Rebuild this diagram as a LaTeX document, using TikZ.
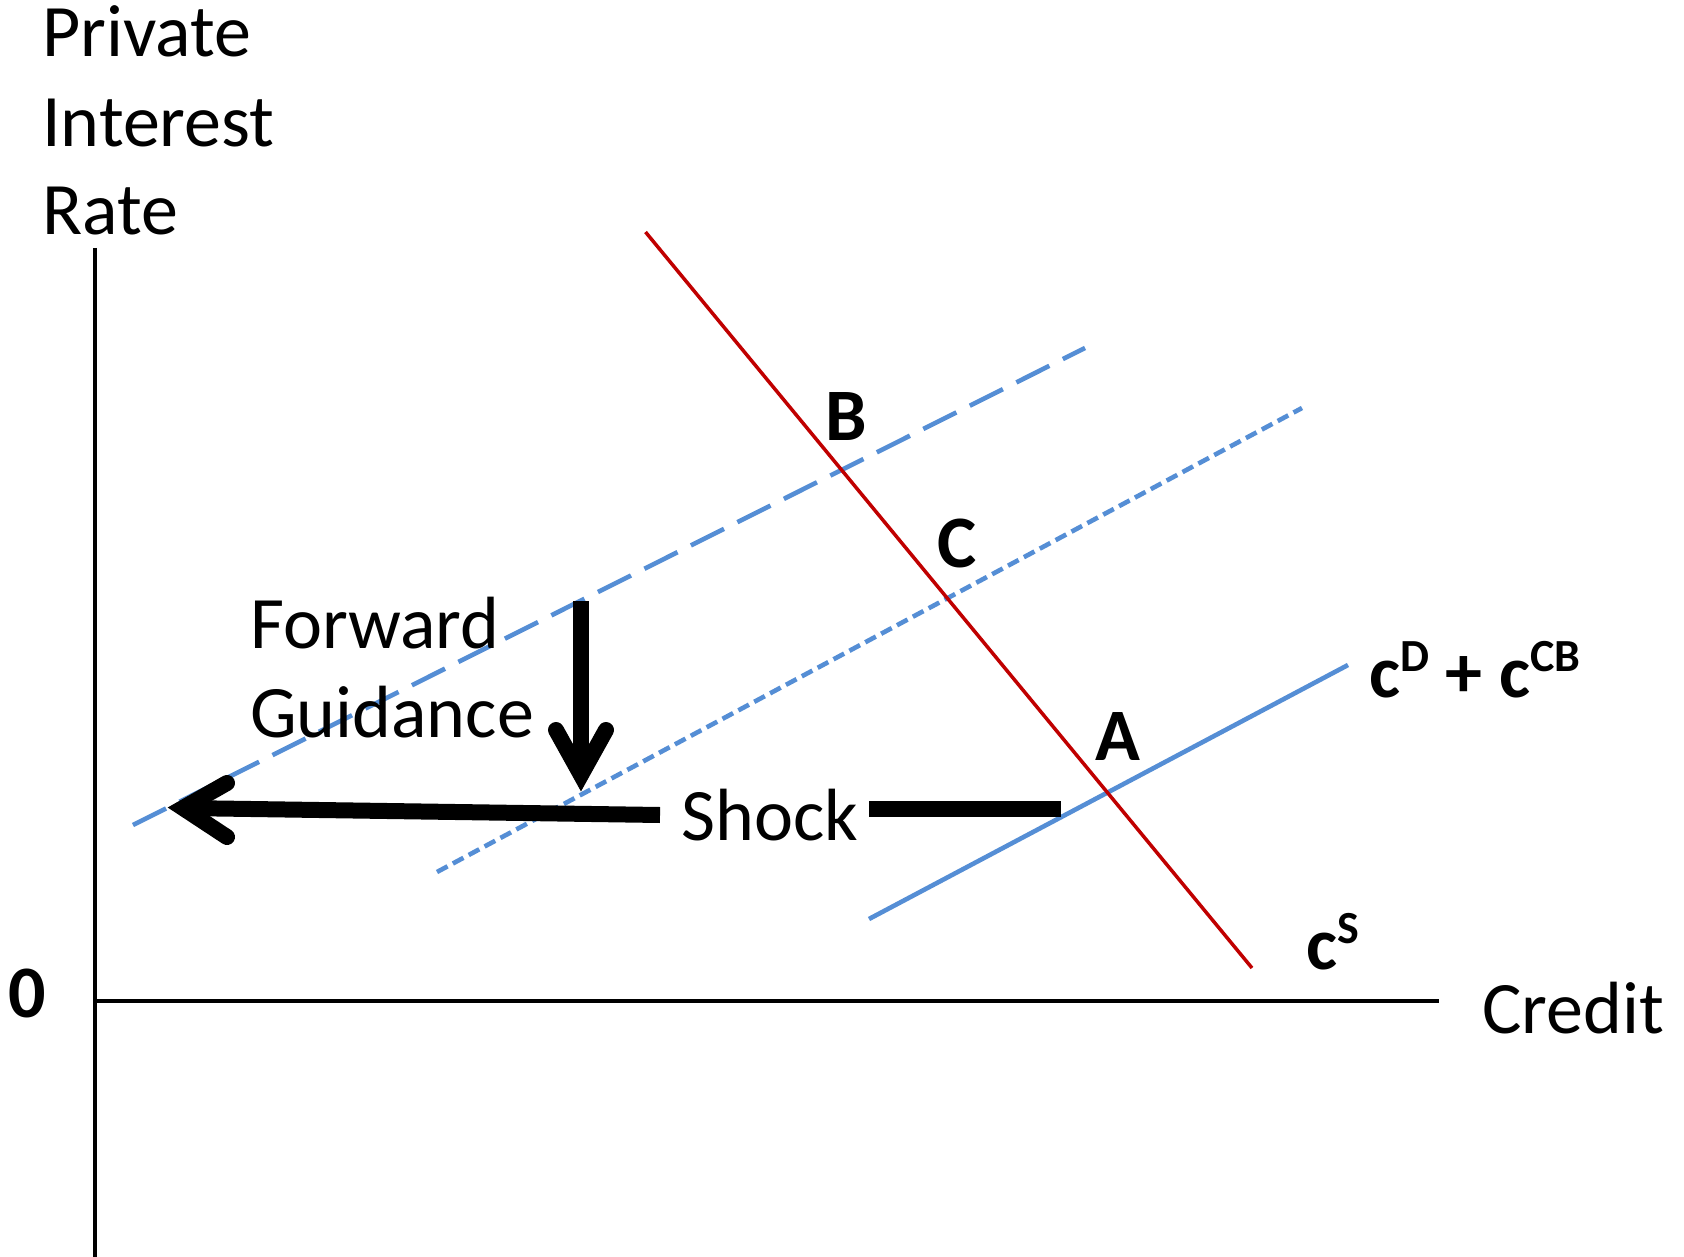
\documentclass[tikz,border=0pt]{standalone}
\usepackage{fontspec}
\setmainfont{Carlito}
\definecolor{cblue}{HTML}{558ED5}
\definecolor{cred}{HTML}{C00000}
\newcommand\supr[1]{\raisebox{26pt}{\fontsize{46}{46}\selectfont #1}}
\begin{document}
\begin{tikzpicture}[x=1pt,y=-1pt,
  lbl/.style={inner sep=0pt, anchor=base west, font=\fontsize{74}{74}\selectfont},
  blbl/.style={inner sep=0pt, anchor=base, font=\fontsize{74}{74}\selectfont\bfseries},
  bwlbl/.style={inner sep=0pt, anchor=base west, font=\fontsize{74}{74}\selectfont\bfseries},
  axisline/.style={line width=3.2pt, black},
  demand/.style={line width=3.5pt, cred},
  supply/.style={line width=4.6pt, cblue},
  longdash/.style={supply, dash pattern=on 37pt off 15pt},
  shortdash/.style={supply, dash pattern=on 12pt off 6pt},
  shaft/.style={line width=16pt, black},
  barb/.style={line width=16pt, black, line cap=round, line join=miter}]
\useasboundingbox (0,0) rectangle (1684,1257);

% axes
\coordinate (ytop) at (95,248);
\coordinate (ybot) at (95,1257);
\coordinate (origin) at (95,1001);
\coordinate (xend) at (1439,1001);
\draw[axisline] (ytop) -- (ybot);
\draw[axisline] (origin) -- (xend);

% curves
\coordinate (ld1) at (133,825);  \coordinate (ld2) at (1085,348);
\coordinate (sd1) at (437,872);  \coordinate (sd2) at (1302,408);
\coordinate (sb1) at (869,919);  \coordinate (sb2) at (1348,665);
\coordinate (rd1) at (645.5,232); \coordinate (rd2) at (1252,968);
\draw[longdash] (ld1) -- (ld2);
\draw[shortdash] (sd1) -- (sd2);
\draw[supply] (sb1) -- (sb2);
\draw[demand] (rd1) -- (rd2);

% texts
\node[lbl] (private) at (42,57) {Private};
\node[lbl] (interest) at (42,147) {Interest};
\node[lbl] (rate) at (42,235) {Rate};
\node[lbl] (credit) at (1482,1033) {Credit};
\node[blbl] (zero) at (27,1017) {0};
\node[lbl] (forward) at (250,648) {Forward};
\node[lbl] (guidance) at (250,737) {Guidance};
\node[lbl] (shock) at (681,840) {Shock};
\node[blbl] (B) at (846,440) {B};
\node[blbl] (C) at (957,567) {C};
\node[blbl] (A) at (1118,760) {A};
\node[bwlbl] (cdcb) at (1369,697) {c\supr{D} + c\supr{CB}};
\node[bwlbl] (cs) at (1306,969) {c\supr{S}};

% shock arrow (left)
\coordinate (shkR) at (660,815);
\coordinate (shkV) at (183,808);
\coordinate (shkA1) at (227,783);
\coordinate (shkA2) at (227,837);
\draw[shaft] (shkR) -- (shkV);
\draw[barb] (shkA1) -- (shkV) -- (shkA2);

% shock bar (right)
\coordinate (barL) at (869,809);
\coordinate (barR) at (1061,809);
\draw[shaft] (barL) -- (barR);

% forward guidance arrow
\coordinate (fgT) at (581,601);
\coordinate (fgV) at (581,775);
\coordinate (fgA1) at (556,730);
\coordinate (fgA2) at (606,730);
\draw[shaft] (fgT) -- (fgV);
\draw[barb] (fgA1) -- (fgV) -- (fgA2);
\end{tikzpicture}
\end{document}
